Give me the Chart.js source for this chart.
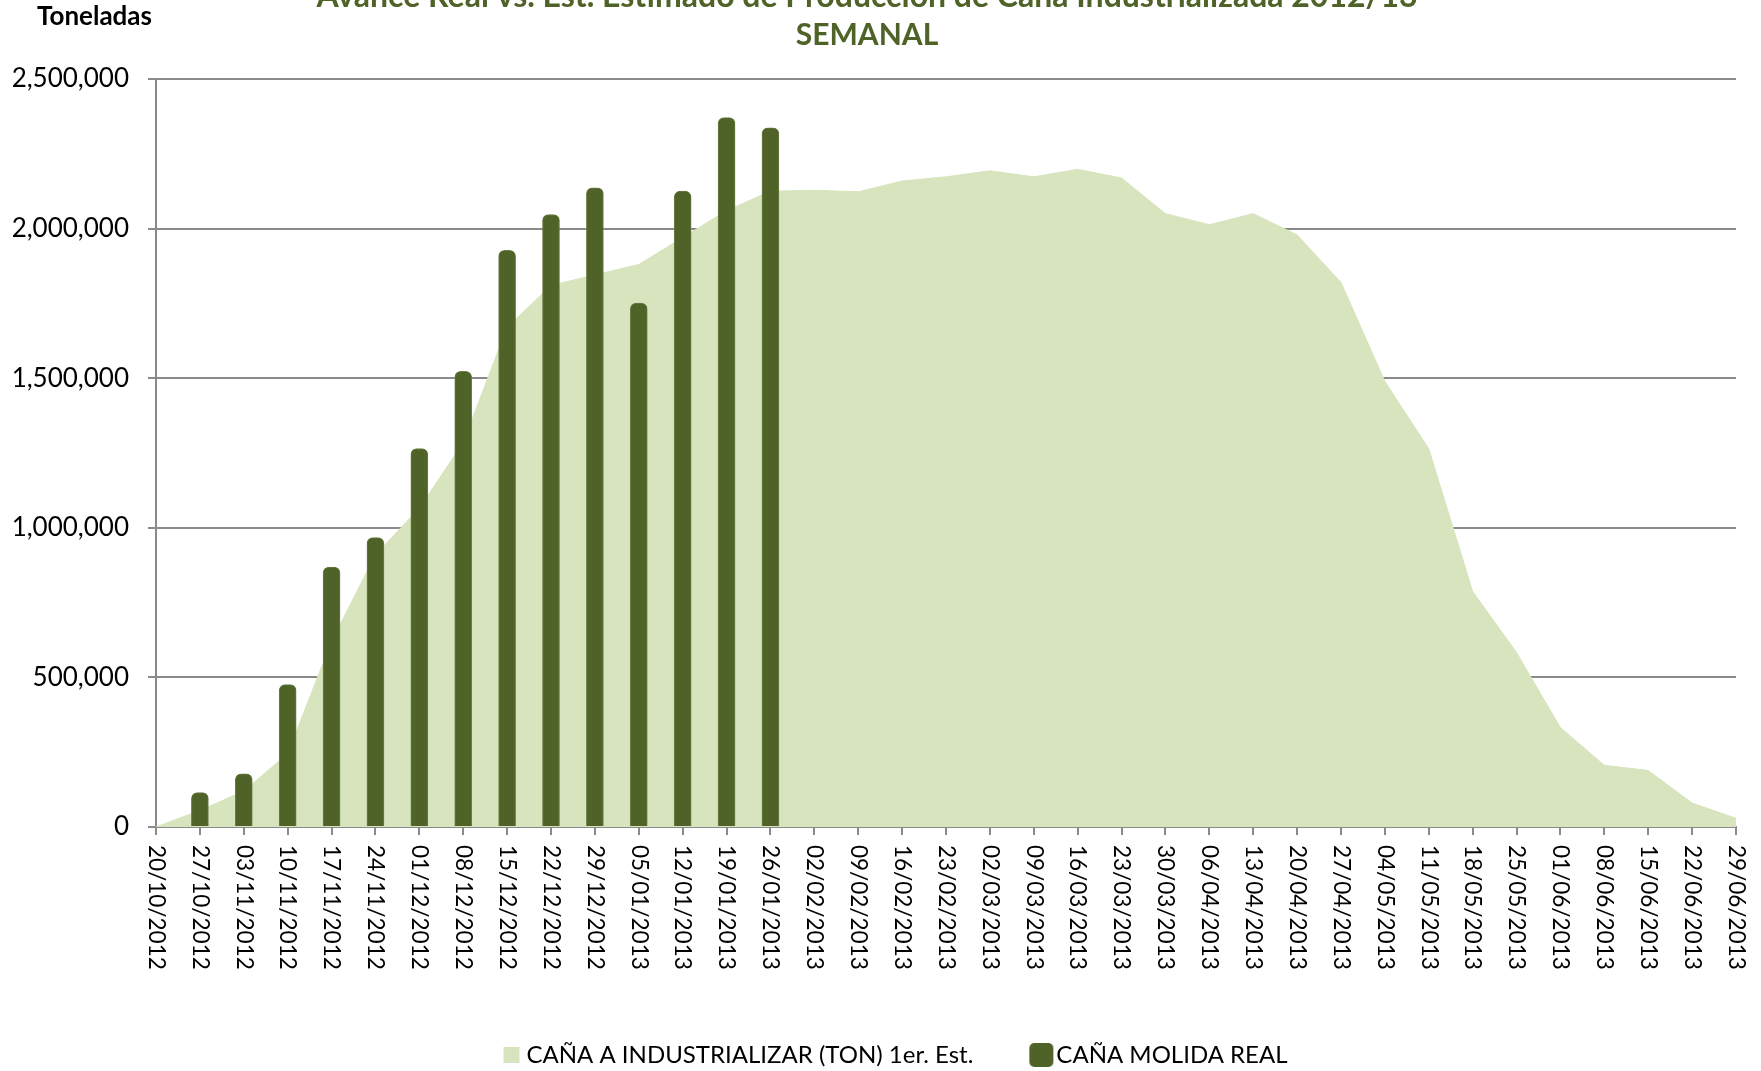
<!DOCTYPE html>
<html>
<head>
<meta charset="utf-8">
<script src="https://cdn.jsdelivr.net/npm/chart.js@4.4.1/dist/chart.umd.min.js"></script>
<style>
  html, body { margin: 0; padding: 0; background: #fff; }
</style>
</head>
<body>
<canvas id="myChart" width="1761" height="1071"></canvas>
<script>
// semanas de la zafra 2012/13
const semanas = [
  '20/10/2012', '27/10/2012', '03/11/2012', '10/11/2012', '17/11/2012', '24/11/2012',
  '01/12/2012', '08/12/2012', '15/12/2012', '22/12/2012', '29/12/2012', '05/01/2013',
  '12/01/2013', '19/01/2013', '26/01/2013', '02/02/2013', '09/02/2013', '16/02/2013',
  '23/02/2013', '02/03/2013', '09/03/2013', '16/03/2013', '23/03/2013', '30/03/2013',
  '06/04/2013', '13/04/2013', '20/04/2013', '27/04/2013', '04/05/2013', '11/05/2013',
  '18/05/2013', '25/05/2013', '01/06/2013', '08/06/2013', '15/06/2013', '22/06/2013',
  '29/06/2013'
];

// CAÑA A INDUSTRIALIZAR (TON) 1er. Est.
const estimado = [
  0, 55000, 120000, 245000, 620000, 910000,
  1065000, 1285000, 1670000, 1810000, 1845000, 1880000,
  1970000, 2060000, 2125000, 2128000, 2123000, 2159000,
  2173000, 2193000, 2173000, 2198000, 2169000, 2050000,
  2013000, 2050000, 1979000, 1820000, 1489000, 1264000,
  787000, 583000, 332000, 206000, 189000, 80000,
  29000
];

// CAÑA MOLIDA REAL
const real = [
  null, 115000, 178000, 476000, 869000, 967000,
  1265000, 1523000, 1927000, 2047000, 2136000, 1751000,
  2125000, 2371000, 2337000
];

const yMax = 2500000;
const yStep = 500000;

const titulo = ['Avance Real vs. Est. Estimado de Producción de Caña Industrializada 2012/13', 'SEMANAL'];
const tituloEje = 'Toneladas';
const serieEst = 'CAÑA A INDUSTRIALIZAR (TON) 1er. Est.';
const serieReal = 'CAÑA MOLIDA REAL';

const verdeClaro = '#D7E4BD';
const verdeOscuro = '#4F6228';
const gris = '#8a8a8a';

Chart.defaults.font.family = 'Lato';
Chart.defaults.color = '#000';

// legend markers: wide transparent canvas, visible box at the right end
const cajaLeyenda = 66;
const fuenteLeyenda = 24;
function marker(w, h, r, gap, color) {
  const c = document.createElement('canvas');
  c.width = cajaLeyenda + fuenteLeyenda;
  c.height = h;
  const g = c.getContext('2d');
  g.fillStyle = color;
  g.beginPath();
  const x0 = c.width - gap - w;
  if (r > 0 && g.roundRect) {
    g.roundRect(x0, 0, w, h, r);
  } else {
    g.rect(x0, 0, w, h);
  }
  g.fill();
  return c;
}

const textos = {
  id: 'textos',
  afterDraw(chart) {
    const ctx = chart.ctx;
    const x = chart.scales.x;
    ctx.save();
    // title, first line is cut by the top edge
    ctx.fillStyle = verdeOscuro;
    ctx.textAlign = 'center';
    ctx.textBaseline = 'alphabetic';
    ctx.font = 'bold 32px Lato';
    ctx.fillText(titulo[0], 867, 7);
    ctx.font = 'bold 30px Lato';
    ctx.fillText(titulo[1], 867, 45);

    ctx.fillStyle = '#000';
    ctx.font = 'bold 26px Lato';
    ctx.textAlign = 'left';
    ctx.fillText(tituloEje, 37, 25);

    // week labels, rotated clockwise
    ctx.font = '22.5px Lato';
    ctx.textBaseline = 'middle';
    semanas.forEach((s, i) => {
      const px = x.getPixelForValue(i);
      ctx.save();
      ctx.translate(px, x.top + 18);
      ctx.rotate(Math.PI / 2);
      ctx.fillText(s, 0, 0);
      ctx.restore();
    });
    ctx.restore();
  }
};

new Chart(document.getElementById('myChart'), {
  type: 'line',
  data: {
    labels: semanas,
    datasets: [
      {
        type: 'line',
        label: serieEst,
        data: estimado,
        backgroundColor: verdeClaro,
        borderColor: verdeClaro,
        borderWidth: 1,
        pointRadius: 0,
        fill: 'origin',
        tension: 0,
        order: 2
      },
      {
        type: 'bar',
        label: serieReal,
        data: real,
        backgroundColor: verdeOscuro,
        borderColor: '#6a7d44',
        borderWidth: 1,
        barThickness: 17,
        borderRadius: { topLeft: 6, topRight: 6, bottomLeft: 0, bottomRight: 0 },
        borderSkipped: 'start',
        order: 1
      }
    ]
  },
  options: {
    responsive: false,
    animation: false,
    layout: {
      padding: { top: 79, bottom: -6, left: 0, right: 25 }
    },
    plugins: {
      title: { display: false },
      tooltip: { enabled: false },
      legend: {
        position: 'bottom',
        labels: {
          usePointStyle: true,
          pointStyleWidth: cajaLeyenda,
          padding: 5,
          font: { size: fuenteLeyenda },
          color: '#000',
          generateLabels: (chart) => chart.data.datasets.map((ds, i) => ({
            text: ds.label,
            pointStyle: i === 0 ? marker(16, 16, 0, 7, verdeClaro) : marker(24, 24, 5, 3, verdeOscuro),
            fillStyle: ds.backgroundColor,
            strokeStyle: 'transparent',
            lineWidth: 0,
            hidden: false,
            datasetIndex: i,
            fontColor: '#000'
          }))
        }
      }
    },
    scales: {
      x: {
        type: 'category',
        offset: false,
        grid: {
          offset: false,
          drawOnChartArea: false,
          drawTicks: true,
          tickLength: 8,
          color: gris,
          lineWidth: 2
        },
        border: { display: true, color: gris, width: 2 },
        ticks: { display: false },
        afterFit: (s) => { s.height = 211; }
      },
      y: {
        min: 0,
        max: yMax,
        grid: {
          color: gris,
          lineWidth: 2,
          drawTicks: true,
          tickLength: 8
        },
        border: { display: true, color: gris, width: 2 },
        ticks: {
          stepSize: yStep,
          padding: 19,
          font: { size: 26 },
          color: '#000',
          callback: (v) => v.toLocaleString('en-US')
        },
        afterFit: (s) => { s.width = 156; }
      }
    }
  },
  plugins: [textos]
});
</script>
</body>
</html>
